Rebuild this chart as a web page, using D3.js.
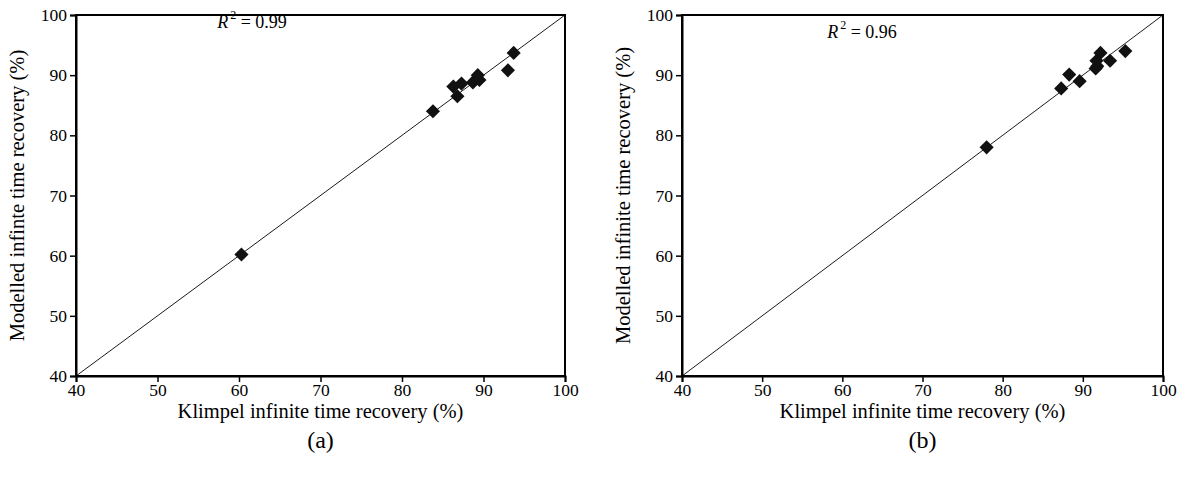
<!DOCTYPE html>
<html>
<head>
<meta charset="utf-8">
<script src="https://cdn.jsdelivr.net/npm/d3@7"></script>
<style>
    body { margin: 0; background: #fff; }
    svg text { font-family: "Liberation Serif", "Times New Roman", serif; fill: #000; }
</style>
</head>
<body>
<div id="chart"></div>
<script>
// values
const tickValues = [40, 50, 60, 70, 80, 90, 100];

const klimpelA = [60.3, 83.8, 86.3, 86.8, 87.3, 88.7, 89.3, 89.5, 93.0, 93.7];
const modelA = [60.2, 84.0, 88.1, 86.5, 88.6, 88.8, 90.0, 89.2, 90.8, 93.7];

const klimpelB = [78.0, 87.3, 88.3, 89.6, 91.6, 91.7, 91.8, 92.2, 93.4, 95.3];
const modelB = [78.0, 87.8, 90.1, 89.0, 91.1, 92.4, 91.5, 93.7, 92.4, 94.0];

const panels = [
    { x: klimpelA, y: modelA, r2: '0.99', tag: '(a)', yTitle: 'Modelled infinte time recovery (%)',
      left: 76, right: 565, r2x: 252, r2y: 28, gap: ' ' },
    { x: klimpelB, y: modelB, r2: '0.96', tag: '(b)', yTitle: 'Modelled infinite time recovery (%)',
      left: 682, right: 1163, r2x: 862, r2y: 38, gap: '' }
];

const plotTop = 15, plotBottom = 376;

const svg = d3.select('#chart')
    .append('svg')
    .attr('width', 1189)
    .attr('height', 481);

svg.append('rect').attr('width', 1189).attr('height', 481).attr('fill', '#fff');

panels.forEach(p => {
    const xScale = d3.scaleLinear().domain([40, 100]).range([p.left, p.right]);
    const yScale = d3.scaleLinear().domain([40, 100]).range([plotBottom, plotTop]);
    const g = svg.append('g');

    // 1:1 line
    g.append('line')
        .attr('x1', xScale(40)).attr('y1', yScale(40))
        .attr('x2', xScale(100)).attr('y2', yScale(100))
        .attr('stroke', '#000')
        .attr('stroke-width', 0.9);

    // frame
    g.append('rect')
        .attr('x', xScale(40)).attr('y', yScale(100))
        .attr('width', xScale(100) - xScale(40))
        .attr('height', yScale(40) - yScale(100))
        .attr('fill', 'none')
        .attr('stroke', '#000')
        .attr('stroke-width', 2);

    const xAxis = g.append('g')
        .attr('transform', `translate(0, ${plotBottom})`)
        .call(d3.axisBottom(xScale).tickValues(tickValues).tickSize(6).tickPadding(2));
    const yAxis = g.append('g')
        .attr('transform', `translate(${p.left}, 0)`)
        .call(d3.axisLeft(yScale).tickValues(tickValues).tickSize(6).tickPadding(3));

    [xAxis, yAxis].forEach(a => {
        a.select('.domain').attr('stroke', '#000').attr('stroke-width', 2);
        a.selectAll('.tick line').attr('stroke', '#000').attr('stroke-width', 1.5);
        a.selectAll('text')
            .style('font-family', '"Liberation Serif", serif')
            .style('font-size', '17.5px')
            .attr('fill', '#000');
    });

    const diamond = d3.symbol().type(d3.symbolSquare).size(100);
    g.selectAll('.pt')
        .data(p.x.map((v, i) => [v, p.y[i]]))
        .enter().append('path')
        .attr('class', 'pt')
        .attr('d', diamond)
        .attr('transform', d => `translate(${xScale(d[0])}, ${yScale(d[1])}) rotate(45)`)
        .attr('fill', '#111');

    // R^2 annotation
    const r2 = g.append('text')
        .attr('x', p.r2x)
        .attr('y', p.r2y)
        .attr('text-anchor', 'middle')
        .style('font-size', '18px');
    r2.append('tspan').style('font-style', 'italic').text('R');
    r2.append('tspan').attr('dy', -9).attr('dx', 2).style('font-size', '12px').text('2');
    r2.append('tspan').attr('dy', 9).text(p.gap + ' = ' + p.r2);

    const cx = (p.left + p.right) / 2;
    g.append('text')
        .attr('x', cx)
        .attr('y', 418)
        .attr('text-anchor', 'middle')
        .style('font-size', '20.5px')
        .text('Klimpel infinite time recovery (%)');

    g.append('text')
        .attr('x', cx)
        .attr('y', 448)
        .attr('text-anchor', 'middle')
        .style('font-size', '24px')
        .text(p.tag);

    g.append('text')
        .attr('transform', `translate(${p.left - 52}, ${(plotTop + plotBottom) / 2}) rotate(-90)`)
        .attr('text-anchor', 'middle')
        .style('font-size', '20.5px')
        .text(p.yTitle);
});
</script>
</body>
</html>
